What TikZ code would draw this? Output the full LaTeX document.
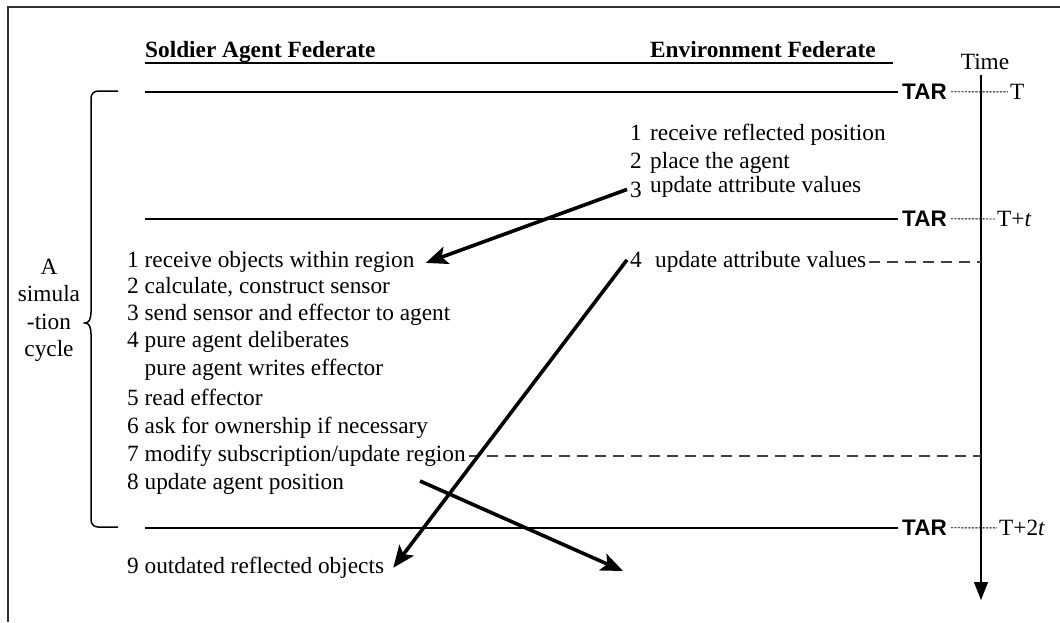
\documentclass[tikz,border=0pt]{standalone}
\usepackage{fontspec}
\setmainfont{Liberation Serif}
\newfontfamily\tarfont{Liberation Sans}
\usetikzlibrary{arrows.meta,calc}

\begin{document}
\begin{tikzpicture}[x=1pt,y=-1pt,
  every node/.style={font=\fontsize{23.3pt}{28pt}\selectfont},
  row/.style={inner xsep=3pt, inner ysep=0pt, anchor=base west},
  head/.style={inner sep=0pt, anchor=base west, font=\fontsize{23.3pt}{28pt}\selectfont\bfseries},
  tar/.style={inner xsep=4pt, inner ysep=0pt, anchor=base west, font=\fontsize{22.5pt}{28pt}\tarfont\bfseries},
  tlabel/.style={inner xsep=2pt, inner ysep=0pt, anchor=base west},
  sync/.style={line width=1.6pt},
  dotline/.style={line width=0.9pt, dash pattern=on 2.2pt off 1.3pt},
  dashline/.style={line width=1.4pt, black!75, dash pattern=on 11pt off 7pt},
  bigarrow/.style={line width=3.6pt, -{Stealth[length=22pt,width=18pt,inset=5pt]}},
  timeaxis/.style={line width=1.3pt, -{Triangle[length=18pt,width=14pt]}}
]
\useasboundingbox (0,0) rectangle (1060,622);

% outer frame (continues past the right and bottom edges)
\draw[line width=2pt, black!80] (1060,7) -- (8,7) -- (8,622);

% column headings
\node[head] (hsoldier) at (145,57) {Soldier Agent Federate};
\node[head] (henv) at (650,57) {Environment Federate};
\draw[line width=1.5pt] (145,63) -- (893,63);

% time axis
\node[inner sep=0pt, anchor=base] (time) at (985,69) {Time};
\coordinate (ttop) at (981,75);
\coordinate (tbot) at (981,600);
\draw[timeaxis] (ttop) -- (tbot);

% synchronisation points (time advance requests)
\coordinate (lx) at (145,0);
\node[tar] (tarA) at (898,99.5) {TAR};
\node[tar] (tarB) at (898,226.5) {TAR};
\node[tar] (tarC) at (898,535.5) {TAR};
\node[tlabel] (tA) at (1008,99.5) {T};
\node[tlabel] (tB) at (995,226.5) {T+\textit{t}};
\node[tlabel] (tC) at (997,535.5) {T+2\textit{t}};
\foreach \n/\l in {A/tA,B/tB,C/tC}{
  \draw[sync] (tar\n.west -| lx) -- (tar\n.west);
  \draw[dotline] (tar\n.east) -- (\l.west);
}

% simulation cycle brace
\draw[line width=1.5pt]
  (118,91) -- (98,91) .. controls (94,91) and (91,94) .. (91,98)
  -- (91,312) .. controls (91,319) and (89,323) .. (85,323)
  .. controls (89,323) and (91,327) .. (91,334)
  -- (91,520) .. controls (91,524) and (94,527) .. (98,527) -- (118,527);
\node[inner sep=0pt, anchor=base] (cyc1) at (49,274) {A};
\node[inner sep=0pt, anchor=base] (cyc2) at (49,301.5) {simula};
\node[inner sep=0pt, anchor=base] (cyc3) at (49,329) {-tion};
\node[inner sep=0pt, anchor=base] (cyc4) at (49,356.5) {cycle};

% environment federate steps
\node[row] (e1n) at (627,140.5) {1};
\node[row] (e1)  at (647,140.5) {receive reflected position};
\node[row] (e2n) at (627,168.5) {2};
\node[row] (e2)  at (647,168.5) {place the agent};
\node[row] (e3n) at (627,197) {3};
\node[row] (e3)  at (647,192.5) {update attribute values};
\node[row] (e4n) at (627,267.5) {4};
\node[row] (e4)  at (652,267.5) {update attribute values};

% soldier agent federate steps
\node[row] (s1) at (124,267.5) {1 receive objects within region};
\node[row] (s2) at (124,293.5) {2 calculate, construct sensor};
\node[row] (s3) at (124,320.5) {3 send sensor and effector to agent};
\node[row] (s4) at (124,347.5) {4 pure agent deliberates};
\node[row] (s4b) at (141.5,375.5) {pure agent writes effector};
\node[row] (s5) at (124,405.5) {5 read effector};
\node[row] (s6) at (124,433.5) {6 ask for ownership if necessary};
\node[row] (s7) at (124,461.5) {7 modify subscription/update region};
\node[row] (s8) at (124,489.5) {8 update agent position};
\node[row] (s9) at (124,573.5) {9 outdated reflected objects};

% links to the time axis
\draw[dashline] (e4.east) -- (e4.east -| ttop);
\draw[dashline] (s7.east) -- (s7.east -| ttop);

% message flows
\coordinate (posout) at (420,481);
\coordinate (posin) at (623,571);
\draw[bigarrow] (e3n.west) -- ($(s1.east)+(8,1)$);
\draw[bigarrow] (e4n.west) -- ($(s9.east)+(6,0)$);
\draw[bigarrow] (posout) -- (posin);
\end{tikzpicture}
\end{document}
